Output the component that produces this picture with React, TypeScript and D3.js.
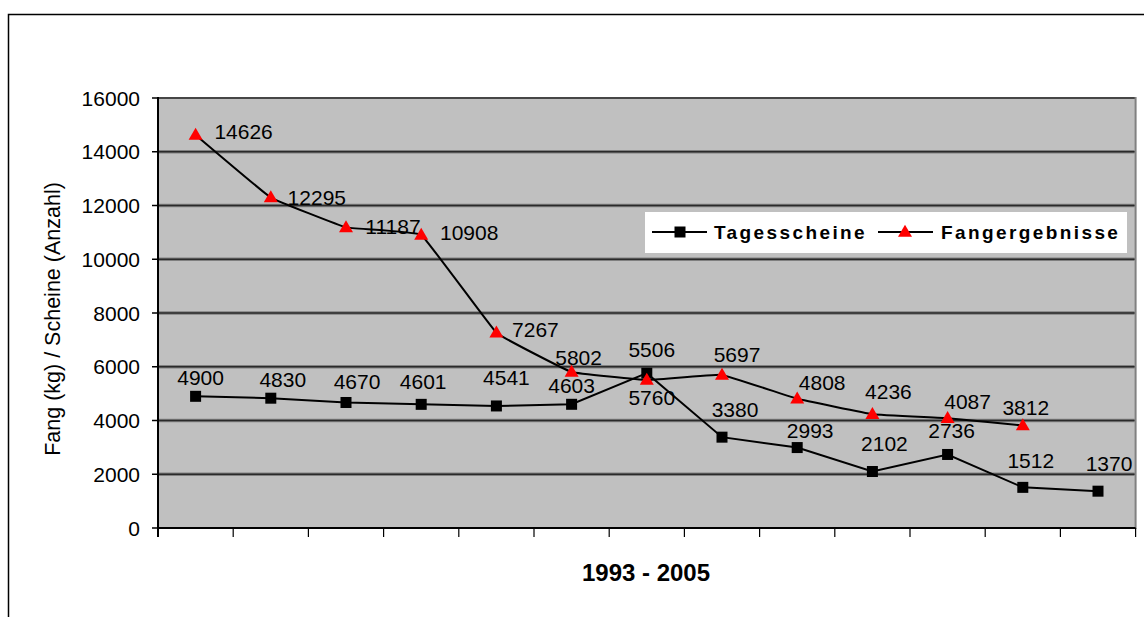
import React from "react";
import * as d3 from "d3";

const years = ["1993","1994","1995","1996","1997","1998","1999","2000","2001","2002","2003","2004","2005"];
const tagesscheine = [4900, 4830, 4670, 4601, 4541, 4603, 5760, 3380, 2993, 2102, 2736, 1512, 1370];
const fangergebnisse = [14626, 12295, 11187, 10908, 7267, 5802, 5506, 5697, 4808, 4236, 4087, 3812];
const yTicks = [0, 2000, 4000, 6000, 8000, 10000, 12000, 14000, 16000];
const seriesNames = ["Tagesscheine", "Fangergebnisse"];

// label offsets (px) relative to the marker, as placed in the reference
const tLabelOffsets: [number, number][] = [
  [5, -19], [12, -19], [11, -21], [2, -23], [10, -29], [0, -19], [5, 24],
  [13, -28], [13, -17], [12, -28], [4, -24], [8, -27], [11, -28],
];
const fLabelOffsets: [number, number][] = [
  [48, -3], [46, 0], [47, -1], [48, -2], [39, -3], [7, -15], [5, -31],
  [15, -20], [25, -16], [16, -23], [20, -17], [3, -18],
];

const W = 1144, H = 617;
const plot = { left: 158, right: 1135.6, top: 98, bottom: 528 };
const FONT = "'Liberation Sans', Arial, sans-serif";

export default function App() {
  const x = d3.scaleBand<string>().domain(years).range([plot.left, plot.right]);
  const y = d3.scaleLinear().domain([0, 16000]).range([plot.bottom, plot.top]);
  const cx = (i: number) => (x(years[i]) as number) + x.bandwidth() / 2;
  const lineT = d3.line<number>().x((_, i) => cx(i)).y((d) => y(d)).curve(d3.curveLinear);
  const lineF = d3.line<number>().x((_, i) => cx(i)).y((d) => y(d)).curve(d3.curveCardinal.tension(0.8));
  const boundaries = years.map((yr) => x(yr) as number).concat([plot.right]);
  const tri = (px: number, py: number, w = 14, h = 12) =>
    `M${px},${py - h * 0.6}L${px + w / 2},${py + h * 0.4}L${px - w / 2},${py + h * 0.4}Z`;

  return (
    <svg width={W} height={H} style={{ position: "absolute", left: 0, top: 0 }} fontFamily={FONT}>
      <rect x={0} y={0} width={W} height={H} fill="#fff" />
      <rect x={8.5} y={14.5} width={W + 20} height={H + 20} fill="none" stroke="#000" strokeWidth={1.5} />
      {/* plot area */}
      <rect x={plot.left} y={plot.top} width={plot.right - plot.left} height={plot.bottom - plot.top}
        fill="#c0c0c0" stroke="#808080" strokeWidth={2} />
      {yTicks.filter((t) => t > 0 && t < 16000).map((t) => (
        <g key={t}>
          <line x1={plot.left} x2={plot.right - 1} y1={y(t)} y2={y(t)} stroke="#808080" strokeWidth={3.5} />
          <line x1={plot.left} x2={plot.right - 1} y1={y(t)} y2={y(t)} stroke="#2a2a2a" strokeWidth={1.5} />
        </g>
      ))}
      <line x1={plot.left} x2={plot.right - 1} y1={plot.top} y2={plot.top} stroke="#333" strokeWidth={1.5} />
      {/* axes */}
      <line x1={plot.left} x2={plot.left} y1={plot.top - 1} y2={plot.bottom + 9} stroke="#000" strokeWidth={2} />
      <line x1={plot.left} x2={plot.right} y1={plot.bottom} y2={plot.bottom} stroke="#000" strokeWidth={2} />
      {yTicks.map((t) => (
        <g key={"yt" + t}>
          <line x1={plot.left - 6} x2={plot.left} y1={y(t)} y2={y(t)} stroke="#000" strokeWidth={1.5} />
          <text x={140} y={y(t)} dy="0.36em" textAnchor="end" fontSize={21} fill="#000">{t}</text>
        </g>
      ))}
      {boundaries.map((b, i) => (
        <line key={"xt" + i} x1={b} x2={b} y1={plot.bottom} y2={plot.bottom + 9} stroke="#000" strokeWidth={1.2} />
      ))}
      <text transform={`translate(60,${(plot.top + plot.bottom) / 2 + 6}) rotate(-90)`} textAnchor="middle"
        fontSize={21.5} fill="#000">Fang (kg) / Scheine (Anzahl)</text>
      <text x={646} y={572} dy="0.36em" textAnchor="middle" fontSize={24} fontWeight="bold" fill="#000">1993 - 2005</text>

      {/* series lines */}
      <path d={lineT(tagesscheine) || ""} fill="none" stroke="#000" strokeWidth={2} />
      <path d={lineF(fangergebnisse) || ""} fill="none" stroke="#000" strokeWidth={2} />
      {tagesscheine.map((v, i) => (
        <rect key={"ts" + i} x={cx(i) - 5.5} y={y(v) - 5.5} width={11} height={11} fill="#000" />
      ))}
      {fangergebnisse.map((v, i) => (
        <path key={"fs" + i} d={tri(cx(i), y(v))} fill="#ff0000" />
      ))}
      {tagesscheine.map((v, i) => (
        <text key={"tl" + i} x={cx(i) + tLabelOffsets[i][0]} y={y(v) + tLabelOffsets[i][1]} dy="0.36em"
          textAnchor="middle" fontSize={21} fill="#000">{v}</text>
      ))}
      {fangergebnisse.map((v, i) => (
        <text key={"fl" + i} x={cx(i) + fLabelOffsets[i][0]} y={y(v) + fLabelOffsets[i][1]} dy="0.36em"
          textAnchor="middle" fontSize={21} fill="#000">{v}</text>
      ))}

      {/* legend */}
      <rect x={645} y={212} width={482} height={41} fill="#fff" />
      <line x1={652} x2={707} y1={232} y2={232} stroke="#000" strokeWidth={2} />
      <rect x={680 - 5.5} y={232 - 5.5} width={11} height={11} fill="#000" />
      <text x={714} y={232} dy="0.36em" fontSize={19} fontWeight="bold" letterSpacing={2.4} fill="#000">{seriesNames[0]}</text>
      <line x1={878} x2={933} y1={232} y2={232} stroke="#000" strokeWidth={2} />
      <path d={tri(905, 232)} fill="#ff0000" />
      <text x={941} y={232} dy="0.36em" fontSize={19} fontWeight="bold" letterSpacing={2.4} fill="#000">{seriesNames[1]}</text>
    </svg>
  );
}
